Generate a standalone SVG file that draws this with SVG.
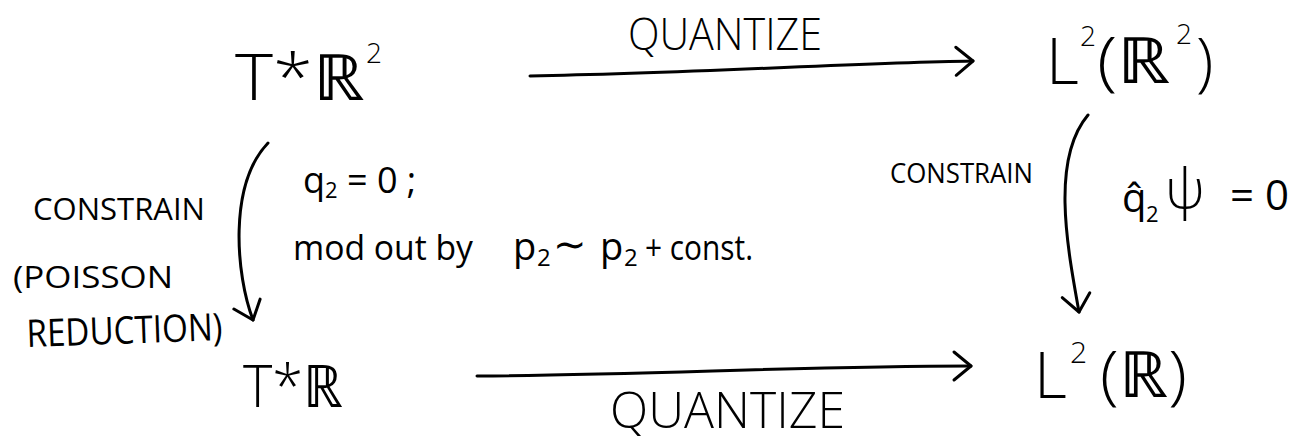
<svg xmlns="http://www.w3.org/2000/svg" width="1299" height="442" viewBox="0 0 1299 442">
<style>
text{font-family:"Open Sans","DejaVu Sans",sans-serif;fill:#000;font-weight:300}
.big{font-size:64px}
.sup{font-size:28px}
.lbl{font-size:31px;font-weight:400}
.math{font-size:36px;font-weight:400}
.edge{fill:none;stroke:#000;stroke-width:3;stroke-linecap:round}
</style>
<defs>
<marker id="ah" markerUnits="userSpaceOnUse" markerWidth="40" markerHeight="40" viewBox="-20 -20 40 40" refX="0" refY="0" orient="auto" overflow="visible">
<path d="M-17,-14 L0,0 L-17,14" fill="none" stroke="#000" stroke-width="3" stroke-linecap="round" stroke-linejoin="round"/>
</marker>
</defs>
<rect width="1299" height="442" fill="#fff"/>
<g id="n-TR2">
<text class="big"><tspan x="235" y="100" textLength="130" lengthAdjust="spacingAndGlyphs">T*ℝ</tspan><tspan x="366" y="63" style="font-size:28px">2</tspan></text>
</g>
<g id="n-L2R2">
<text class="big"><tspan x="1046" y="84">L</tspan><tspan x="1080" y="46" style="font-size:28px">2</tspan><tspan x="1097" y="83" textLength="74" lengthAdjust="spacingAndGlyphs">(ℝ</tspan><tspan x="1176" y="44" style="font-size:28px">2</tspan><tspan x="1196" y="84">)</tspan></text>
</g>
<g id="n-TR">
<text x="243" y="407" textLength="100" lengthAdjust="spacingAndGlyphs" style="font-size:59px">T*ℝ</text>
</g>
<g id="n-L2R">
<text class="big"><tspan x="1034" y="398">L</tspan><tspan x="1070" y="363" style="font-size:30px">2</tspan><tspan x="1100" y="397" textLength="87" lengthAdjust="spacingAndGlyphs">(ℝ)</tspan></text>
</g>
<g id="connectors">
<path id="e-top" class="edge" d="M530,76 C700,73 850,63 973,61" marker-end="url(#ah)"/>
<path id="e-bottom" class="edge" d="M477,376 C650,375 800,366 971,366" marker-end="url(#ah)"/>
<path id="e-left" class="edge" d="M268,143 C228,185 236,275 253,320" marker-end="url(#ah)"/>
<path id="e-right" class="edge" d="M1088,115 C1050,160 1068,250 1079,312" marker-end="url(#ah)"/>
</g>
<g id="labels">
<text x="628" y="50" style="font-size:44px" textLength="194" lengthAdjust="spacingAndGlyphs">QUANTIZE</text>
<text x="610" y="428" style="font-size:50px" textLength="235" lengthAdjust="spacingAndGlyphs">QUANTIZE</text>
<text class="lbl" x="33" y="220" textLength="172" lengthAdjust="spacingAndGlyphs">CONSTRAIN</text>
<text class="lbl" x="13" y="288" textLength="160" lengthAdjust="spacingAndGlyphs">(POISSON</text>
<text class="lbl" x="27" y="347" style="font-size:38px" textLength="196" lengthAdjust="spacingAndGlyphs" transform="rotate(-2 27 347)">REDUCTION)</text>
<text class="lbl" x="890" y="183" style="font-size:28px" textLength="143" lengthAdjust="spacingAndGlyphs">CONSTRAIN</text>
<text class="math" x="303" y="193">q<tspan dy="5" style="font-size:22px">2</tspan><tspan dy="-5"> = 0 ;</tspan></text>
<text class="math" x="293" y="260" style="font-size:34px" textLength="180" lengthAdjust="spacingAndGlyphs">mod out by</text>
<text class="math" style="font-size:38px"><tspan x="513" y="260">p</tspan><tspan x="537" y="266" style="font-size:24px">2</tspan><tspan x="553" y="258" style="font-size:40px">∼</tspan><tspan x="600" y="260">p</tspan><tspan x="624" y="266" style="font-size:24px">2</tspan></text>
<text class="math" x="645" y="260" style="font-size:34px" textLength="108" lengthAdjust="spacingAndGlyphs">+ const.</text>
<text class="math" style="font-size:40px"><tspan x="1122" y="212">q̂</tspan><tspan x="1146" y="222" style="font-size:22px">2</tspan><tspan x="1165" y="208" style="font-size:55px;font-weight:300">ψ</tspan><tspan x="1230" y="210" style="font-size:42px">= 0</tspan></text>
</g>
</svg>
